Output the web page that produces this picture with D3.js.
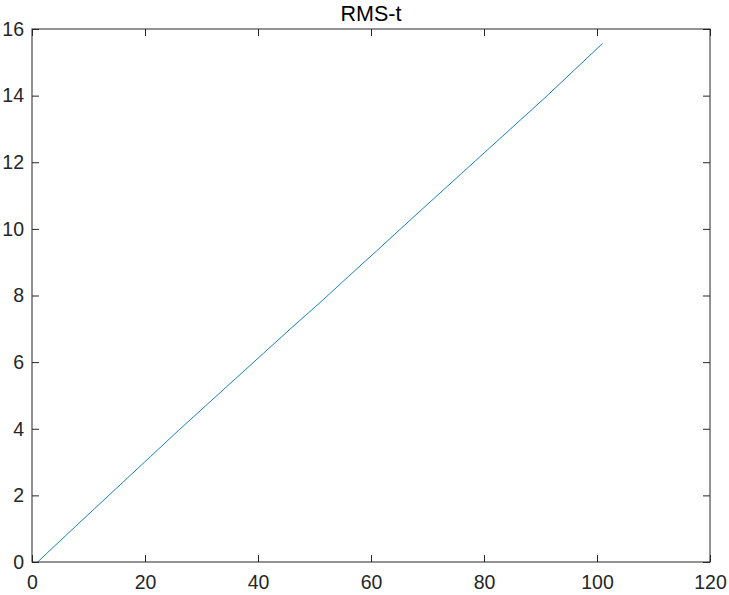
<!DOCTYPE html>
<html>
<head>
<meta charset="utf-8">
<script src="https://cdn.jsdelivr.net/npm/d3@7"></script>
<style>
  body { margin: 0; background: #fff; }
  svg { display: block; font-family: "Liberation Sans", Arial, sans-serif; }
</style>
</head>
<body>
<svg></svg>
<script>
// RMS value against time
let tValues = [1, 6, 11, 16, 21, 26, 31, 36, 41, 46, 51, 56, 61, 66, 71, 76, 81, 86, 91, 96, 101]
let rmsValues = [0, 0.80, 1.59, 2.38, 3.17, 3.96, 4.73, 5.50, 6.27, 7.04, 7.79,
                 8.57, 9.34, 10.12, 10.89, 11.66, 12.43, 13.20, 13.97, 14.77, 15.57]

let xTicks = [0, 20, 40, 60, 80, 100, 120]
let yTicks = [0, 2, 4, 6, 8, 10, 12, 14, 16]
let title = 'RMS-t'

let width = 729
let height = 595
let plotLeft = 32
let plotRight = 710
let plotTop = 29
let plotBottom = 562
let tickLen = 7
let ink = '#262626'

let svg = d3.select('svg')
    .attr('width', width)
    .attr('height', height)

let xScale = d3.scaleLinear().domain([0, 120]).range([plotLeft, plotRight])
let yScale = d3.scaleLinear().domain([0, 16]).range([plotBottom, plotTop])

let values = tValues.map((t, i) => ({ t: t, v: rmsValues[i] }))

// line first, box on top
let line = d3.line()
    .x(d => xScale(d.t))
    .y(d => yScale(d.v))

svg.append('path')
    .datum(values)
    .attr('fill', 'none')
    .attr('stroke', '#0072BD')
    .attr('stroke-width', 0.9)
    .attr('d', line)

let styleAxis = (g) => {
    g.select('.domain').remove()
    g.selectAll('line').attr('stroke', ink)
    g.selectAll('text')
        .attr('fill', ink)
        .style('font-size', '19.5px')
}

// bottom axis with labels, ticks pointing inward
svg.append('g')
    .attr('transform', 'translate(0,' + plotBottom + ')')
    .call(d3.axisBottom(xScale).tickValues(xTicks).tickSize(-tickLen).tickPadding(13))
    .call(styleAxis)

// top ticks, no labels
svg.append('g')
    .attr('transform', 'translate(0,' + plotTop + ')')
    .call(d3.axisTop(xScale).tickValues(xTicks).tickSize(-tickLen).tickFormat(''))
    .call(styleAxis)

// left axis with labels
svg.append('g')
    .attr('transform', 'translate(' + plotLeft + ',0)')
    .call(d3.axisLeft(yScale).tickValues(yTicks).tickSize(-tickLen).tickPadding(8))
    .call(styleAxis)

// right ticks, no labels
svg.append('g')
    .attr('transform', 'translate(' + plotRight + ',0)')
    .call(d3.axisRight(yScale).tickValues(yTicks).tickSize(-tickLen).tickFormat(''))
    .call(styleAxis)

svg.append('rect')
    .attr('x', plotLeft)
    .attr('y', plotTop)
    .attr('width', plotRight - plotLeft)
    .attr('height', plotBottom - plotTop)
    .attr('fill', 'none')
    .attr('stroke', ink)
    .attr('stroke-width', 1)

svg.append('text')
    .attr('x', (plotLeft + plotRight) / 2)
    .attr('y', 21)
    .attr('text-anchor', 'middle')
    .attr('fill', '#000')
    .style('font-size', '21.5px')
    .text(title)
</script>
</body>
</html>
